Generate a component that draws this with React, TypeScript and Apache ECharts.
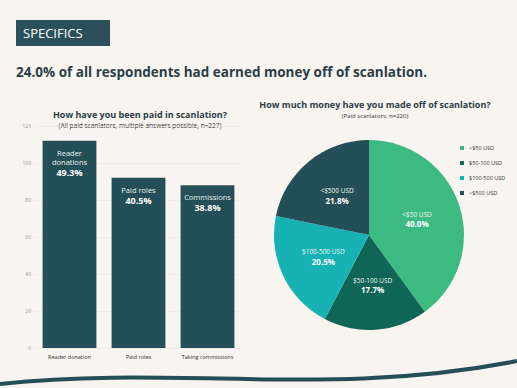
import React, { useEffect, useRef } from "react";
import * as echarts from "echarts";

const barCategories = ["Reader donation", "Paid roles", "Taking commissions"];
const barValues = [112, 92, 88];
const barLabelNames = [["Reader", "donations"], ["Paid roles"], ["Commissions"]];
const barLabelPcts = ["49.3%", "40.5%", "38.8%"];
const yTicks = { min: 0, max: 120, interval: 20 };

const pieNames = ["<$50 USD", "$50-100 USD", "$100-500 USD", ">$500 USD"];
const pieSliceLabels = ["<$50 USD", "$50-100 USD", "$100-500 USD", "<$500 USD"];
const pieValues = [40.0, 17.7, 20.5, 21.8];
const pieColors = ["#3dba82", "#0f6657", "#17b2b3", "#244f58"];

const FONT = "Open Sans";
const DARK = "#2b3d47";

export default function App() {
  const ref = useRef<HTMLDivElement>(null);
  useEffect(() => {
    if (!ref.current) return;
    const chart = echarts.init(ref.current, undefined, { renderer: "svg" });
    chart.setOption({
      animation: false,
      backgroundColor: "#f8f4ef",
      textStyle: { fontFamily: FONT },
      grid: { left: 35, right: 275, top: 126, bottom: 40 },
      xAxis: {
        type: "category",
        data: barCategories,
        axisLine: { show: false },
        axisTick: { show: false },
        axisLabel: { fontSize: 5.5, color: "#333", margin: 6, interval: 0, fontFamily: FONT },
      },
      yAxis: {
        type: "value",
        min: yTicks.min,
        max: yTicks.max,
        interval: yTicks.interval,
        axisLine: { show: false },
        axisTick: { show: false },
        axisLabel: { fontSize: 5, color: "#999", margin: 4, fontFamily: FONT },
        splitLine: { lineStyle: { color: "#ece6df", width: 0.6 } },
      },
      legend: {
        orient: "vertical",
        left: 455,
        top: 140,
        itemWidth: 4,
        itemHeight: 4,
        itemGap: 9,
        icon: "rect",
        textStyle: { fontSize: 5.5, color: "#333", fontFamily: FONT },
        data: pieNames,
      },
      series: [
        {
          type: "bar",
          data: barValues,
          barCategoryGap: "22%",
          itemStyle: { color: "#244f58" },
          label: {
            show: true,
            position: "insideTop",
            distance: 7,
            formatter: (p: any) =>
              barLabelNames[p.dataIndex].map((s) => `{n|${s}}`).join("\n") +
              `\n{p|${barLabelPcts[p.dataIndex]}}`,
            rich: {
              n: { fontSize: 7.5, color: "#e8f0f0", lineHeight: 9.5, fontFamily: FONT },
              p: { fontSize: 9, color: "#ffffff", fontWeight: "bold", lineHeight: 11.5, fontFamily: FONT },
            },
          },
        },
        {
          type: "pie",
          center: [369, 235],
          radius: 95,
          startAngle: 90,
          clockwise: true,
          data: pieNames.map((n, i) => ({
            name: n,
            value: pieValues[i],
            itemStyle: { color: pieColors[i] },
          })),
          label: {
            show: true,
            position: "inside",
            formatter: (p: any) =>
              `{n|${pieSliceLabels[p.dataIndex]}}\n{p|${pieValues[p.dataIndex].toFixed(1)}%}`,
            rich: {
              n: { fontSize: 6.5, color: "#f0f6f4", lineHeight: 9, fontFamily: FONT },
              p: { fontSize: 8, color: "#ffffff", fontWeight: "bold", lineHeight: 10.5, fontFamily: FONT },
            },
          },
          labelLine: { show: false },
        },
      ],
      graphic: [
        { type: "rect", shape: { x: 16, y: 20, width: 94, height: 26 }, style: { fill: "#2b505c" } },
        {
          type: "text",
          x: 23,
          y: 33,
          style: { text: "SPECIFICS", fill: "#ffffff", fontSize: 13, fontFamily: FONT, verticalAlign: "middle" },
        },
        {
          type: "text",
          x: 16,
          y: 72,
          style: {
            text: "24.0% of all respondents had earned money off of scanlation.",
            fill: DARK,
            fontSize: 13.5,
            fontWeight: "bold",
            fontFamily: FONT,
            verticalAlign: "middle",
          },
        },
        {
          type: "text",
          x: 140,
          y: 114,
          style: {
            text: "How have you been paid in scanlation?",
            fill: DARK,
            fontSize: 9,
            fontWeight: "bold",
            fontFamily: FONT,
            align: "center",
            verticalAlign: "middle",
          },
        },
        {
          type: "text",
          x: 140,
          y: 125,
          style: {
            text: "(All paid scanlators, multiple answers possible, n=227)",
            fill: "#333",
            fontSize: 6.5,
            fontFamily: FONT,
            align: "center",
            verticalAlign: "middle",
          },
        },
        {
          type: "text",
          x: 375,
          y: 104,
          style: {
            text: "How much money have you made off of scanlation?",
            fill: DARK,
            fontSize: 9,
            fontWeight: "bold",
            fontFamily: FONT,
            align: "center",
            verticalAlign: "middle",
          },
        },
        {
          type: "text",
          x: 375,
          y: 116,
          style: {
            text: "(Paid scanlators, n=220)",
            fill: "#333",
            fontSize: 6,
            fontFamily: FONT,
            align: "center",
            verticalAlign: "middle",
          },
        },
        {
          type: "bezierCurve",
          shape: { x1: 0, y1: 384, cpx1: 180, cpy1: 365, cpx2: 330, cpy2: 398, x2: 517, y2: 361 },
          style: { stroke: "#244f58", lineWidth: 4, fill: null },
        },
      ],
    });
    return () => chart.dispose();
  }, []);
  return (
    <div
      ref={ref}
      style={{ position: "fixed", left: 0, top: 0, width: 517, height: 388 }}
    />
  );
}
